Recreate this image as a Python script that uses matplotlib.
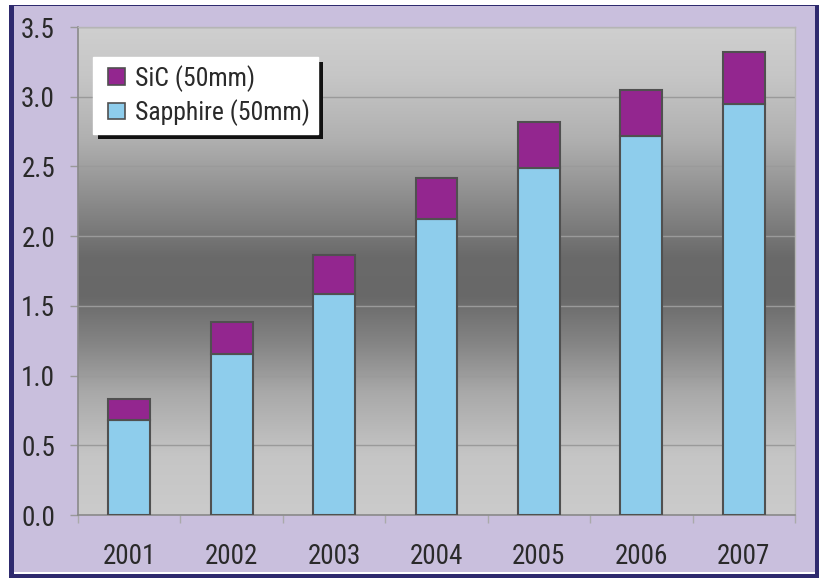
import numpy as np
import matplotlib
matplotlib.use("Agg")
import matplotlib.pyplot as plt
from matplotlib import font_manager
from matplotlib.colors import LinearSegmentedColormap
from matplotlib.patches import Rectangle, Patch
from matplotlib.legend_handler import HandlerPatch
from matplotlib.ticker import FixedLocator

# prefer a narrow sans-serif face if one is installed
def pick_narrow():
    skip = ("bold", "italic", "oblique", "light", "semi", "extra", "ultra",
            "black", "medium", "thin", "mono", "serif", "display")
    found = []
    for f in font_manager.fontManager.ttflist:
        base = f.fname.lower().rsplit("/", 1)[-1]
        if ("narrow" in base or "condensed" in base) and not any(s in base for s in skip):
            found.append(f)
    for key in ("liberationsansnarrow", "liberation", "notosans", "roboto", "opensans", "dejavu"):
        for f in found:
            if key in f.fname.lower().replace("-", "").replace("_", ""):
                return f
    return found[0] if found else None

narrow = pick_narrow()
if narrow is not None:
    plt.rcParams['font.family'] = [narrow.name, 'DejaVu Sans']
    plt.rcParams['font.stretch'] = narrow.stretch
    FS_TICK, FS_LEG = 19.5, 18.5
else:
    plt.rcParams['font.family'] = ['Liberation Sans', 'DejaVu Sans']
    FS_TICK, FS_LEG = 18.5, 16

years = ["2001", "2002", "2003", "2004", "2005", "2006", "2007"]
sapphire = [0.68, 1.155, 1.585, 2.125, 2.49, 2.715, 2.95]
total = [0.835, 1.385, 1.865, 2.42, 2.82, 3.045, 3.32]
sic = [t - s for t, s in zip(total, sapphire)]
y_ticks = [0.0, 0.5, 1.0, 1.5, 2.0, 2.5, 3.0, 3.5]

W, H = 819, 578
fig = plt.figure(figsize=(W / 100, H / 100), dpi=100)
fig.patch.set_facecolor("white")

# page frame: navy border with lavender panel
fig.patches.append(Rectangle((9 / W, 0), 1 - 9 / W, 1 - 5 / H, transform=fig.transFigure,
                             facecolor="#2e2a6e", edgecolor="none", zorder=-3))
fig.patches.append(Rectangle((14 / W, 4 / H), (815 - 14) / W, 568 / H, transform=fig.transFigure,
                             facecolor="white", edgecolor="none", zorder=-2))
fig.patches.append(Rectangle((14 / W, 6 / H), (815 - 14) / W, 566 / H, transform=fig.transFigure,
                             facecolor="#c9bfdd", edgecolor="none", zorder=-1))

ax = fig.add_axes([78 / W, (H - 515) / H, 717 / W, 488 / H])
ax.set_facecolor("none")

# vertical grey gradient behind the bars
stops = [(0.0, "#cbcbcb"), (0.12, "#c5c5c5"), (0.25, "#a9a9a9"), (0.35, "#858585"),
         (0.45, "#686868"), (0.53, "#6a6a6a"), (0.63, "#878787"), (0.77, "#b0b0b0"),
         (0.9, "#c6c6c6"), (1.0, "#cfcfcf")]
cmap = LinearSegmentedColormap.from_list("bg", stops)
grad = np.linspace(0, 1, 256).reshape(-1, 1)
ax.imshow(grad, cmap=cmap, origin="lower", aspect="auto", extent=[0, 1, 0, 1],
          transform=ax.transAxes, zorder=0, interpolation="bicubic")

x = np.arange(len(years))
bw = 0.41
ax.bar(x, sapphire, width=bw, color="#8ecdec", edgecolor="#505050", linewidth=1.5, zorder=3)
ax.bar(x, sic, bottom=sapphire, width=bw, color="#93268f", edgecolor="#505050", linewidth=1.5, zorder=3)

ax.set_xlim(-0.5, len(years) - 0.5)
ax.set_ylim(0, 3.5)
ax.set_yticks(y_ticks)
ax.set_yticklabels([f"{v:.1f}" for v in y_ticks])
ax.set_xticks(x)
ax.set_xticklabels(years)
ax.xaxis.set_minor_locator(FixedLocator(np.arange(-0.5, len(years), 1.0)))

ax.yaxis.grid(True, color="#9a9a9a", linewidth=1.0, zorder=1)
ax.set_axisbelow(True)
ax.tick_params(axis="y", length=6, width=1, color="#999999", pad=10.5,
               labelsize=FS_TICK, labelcolor="#2a2a2a")
ax.tick_params(axis="x", which="major", length=0, pad=20, labelsize=FS_TICK, labelcolor="#2a2a2a")
ax.tick_params(axis="x", which="minor", length=6, width=1, color="#aaaaaa")

for side in ("left", "bottom"):
    ax.spines[side].set_color("#8a8a8a")
    ax.spines[side].set_linewidth(1.2)
for side in ("top", "right"):
    ax.spines[side].set_color("#b5b5b5")
    ax.spines[side].set_linewidth(1.0)


def square_right(legend, orig_handle, xdescent, ydescent, width, height, fontsize):
    # square swatch pushed to the right end of the handle box
    return Rectangle((-xdescent + width - height, -ydescent), height, height)


handles = [Patch(facecolor="#93268f", edgecolor="#505050", linewidth=1.2, label="SiC (50mm)"),
           Patch(facecolor="#8ecdec", edgecolor="#505050", linewidth=1.2, label="Sapphire (50mm)")]
leg = ax.legend(handles=handles, loc="upper left", bbox_to_anchor=(15 / 717, (515 - 57) / 488),
                bbox_transform=ax.transAxes, borderaxespad=0, fontsize=FS_LEG, frameon=True,
                fancybox=False, framealpha=1, edgecolor="white", facecolor="white",
                handlelength=0.95, handleheight=0.62, handletextpad=0.39, labelspacing=0.3,
                borderpad=0.3, labelcolor="#2a2a2a",
                handler_map={Patch: HandlerPatch(patch_func=square_right)})
leg.set_zorder(6)

# black drop shadow under the legend box
fig.canvas.draw()
bb = leg.get_window_extent().transformed(fig.transFigure.inverted())
shadow = Rectangle((bb.x0 + 5 / W, bb.y0 - 5 / H), bb.width, bb.height,
                   transform=fig.transFigure, facecolor="#111111",
                   edgecolor="none", zorder=5, clip_on=False)
ax.add_patch(shadow)

fig.savefig("out.png", dpi=100, facecolor=fig.get_facecolor())
